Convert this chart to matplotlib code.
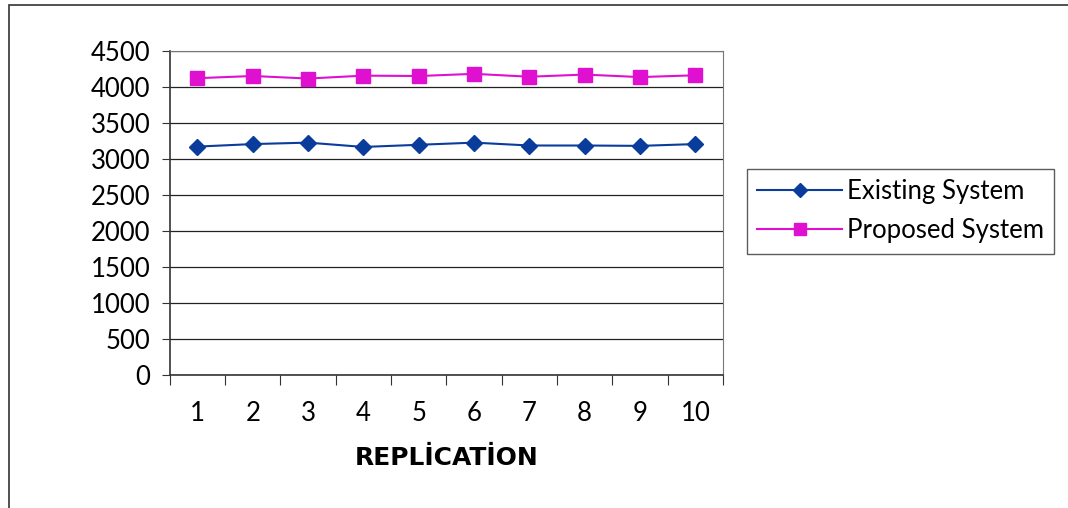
import matplotlib
matplotlib.use("Agg")
from matplotlib import pyplot as plt
from matplotlib.patches import Rectangle
import numpy as np

replications = [1, 2, 3, 4, 5, 6, 7, 8, 9, 10]
existing = [3170, 3205, 3225, 3165, 3195, 3225, 3185, 3185, 3180, 3205]
proposed = [4120, 4150, 4115, 4155, 4150, 4180, 4140, 4170, 4135, 4160]
y_ticks = [0, 500, 1000, 1500, 2000, 2500, 3000, 3500, 4000, 4500]

plt.rcParams['font.family'] = ['Lato', 'DejaVu Sans']

fig = plt.figure(figsize=(10.68, 5.08), dpi=100)
ax = fig.add_axes([0.159, 0.262, 0.518, 0.638])

# outer chart border (left and top visible)
fig.add_artist(Rectangle((0.008, -0.02), 1.1, 1.01, transform=fig.transFigure,
                         fill=False, edgecolor='#333333', linewidth=1.2))

ax.plot(replications, existing, color='#0A3C9C', marker='D', markersize=8,
        linewidth=1.5, label='Existing System')
ax.plot(replications, proposed, color='#E010D0', marker='s', markersize=10,
        linewidth=1.5, label='Proposed System')

ax.set_xlim(0.5, 10.5)
ax.set_ylim(0, 4500)
ax.set_yticks(y_ticks)
ax.set_yticklabels([str(v) for v in y_ticks], fontsize=18.5)
ax.yaxis.grid(True, color='#222222', linewidth=0.9)
ax.set_axisbelow(True)

# category ticks at boundaries, labels at centres
ax.set_xticks(np.arange(0.5, 11, 1))
ax.set_xticklabels([])
ax.set_xticks(replications, minor=True)
ax.set_xticklabels([str(r) for r in replications], minor=True, fontsize=18.5)
ax.tick_params(axis='x', which='major', direction='out', length=7, color='#333333')
ax.tick_params(axis='x', which='minor', length=0, pad=19)
ax.tick_params(axis='y', direction='out', length=6, color='#333333', pad=8)

for side in ['top', 'right']:
    ax.spines[side].set_color('#777777')
for side in ['left', 'bottom']:
    ax.spines[side].set_color('#333333')
    ax.spines[side].set_linewidth(1.2)

ax.set_xlabel('REPLİCATİON', fontsize=18, fontweight='bold', labelpad=14,
              family=['DejaVu Sans'])

leg = ax.legend(loc='center left', bbox_to_anchor=(1.02, 0.505), fontsize=18.5,
                frameon=True, fancybox=False, edgecolor='#333333',
                borderpad=0.4, handlelength=3.3, handletextpad=0.2,
                labelspacing=0.55, markerscale=0.85)
leg.get_frame().set_linewidth(1.0)

plt.savefig("out.png", dpi=100)
plt.close()
